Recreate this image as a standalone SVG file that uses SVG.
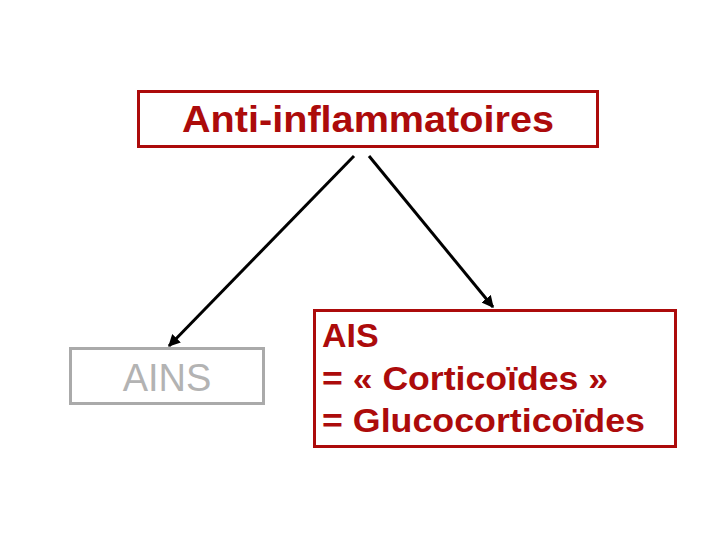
<svg xmlns="http://www.w3.org/2000/svg" width="720" height="540" viewBox="0 0 720 540">
<defs>
<style>
.red{fill:none;stroke:#ac0b0b;stroke-width:3}
.rt{fill:#ac0b0b;font-family:"Liberation Sans",Arial,sans-serif;font-weight:bold}
.conn{stroke:#000;stroke-width:3;fill:none;marker-end:url(#ah)}
</style>
<marker id="ah" viewBox="0 0 10 10" refX="9" refY="5" markerWidth="4" markerHeight="4" orient="auto" markerUnits="strokeWidth">
<path d="M0,0 L10,5 L0,10 Z" fill="#000"/>
</marker>
</defs>
<rect width="720" height="540" fill="#fff"/>
<g id="connectors">
<line class="conn" x1="354" y1="156" x2="169" y2="346"/>
<line class="conn" x1="369" y1="156" x2="493" y2="307"/>
</g>
<g id="node-anti">
<rect class="red" x="138.5" y="91.5" width="459" height="55"/>
<text class="rt" x="368" y="132" font-size="37" text-anchor="middle" textLength="372" lengthAdjust="spacingAndGlyphs">Anti-inflammatoires</text>
</g>
<g id="node-ains">
<rect x="70.5" y="348.5" width="193" height="55" fill="none" stroke="#aaaaaa" stroke-width="3"/>
<text x="167" y="391" font-size="38" fill="#b3b3b3" font-family="'Liberation Sans',Arial,sans-serif" text-anchor="middle">AINS</text>
</g>
<g id="node-ais">
<rect class="red" x="314.5" y="310.5" width="361" height="136"/>
<text class="rt" x="322" y="347" font-size="34">AIS</text>
<text class="rt" x="322" y="390" font-size="34" textLength="286" lengthAdjust="spacingAndGlyphs">= « Corticoïdes »</text>
<text class="rt" x="322" y="432" font-size="34" textLength="323" lengthAdjust="spacingAndGlyphs">= Glucocorticoïdes</text>
</g>
</svg>
